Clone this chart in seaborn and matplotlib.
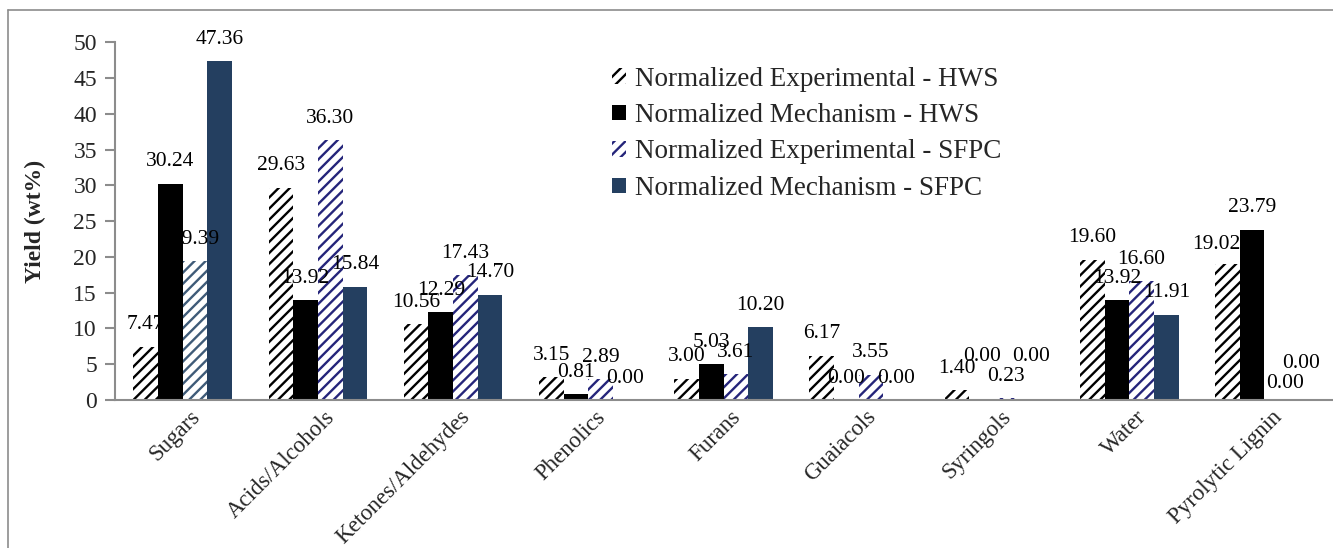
import matplotlib
matplotlib.use("Agg")
import matplotlib.pyplot as plt
import matplotlib.transforms as mtransforms
from matplotlib.lines import Line2D
from matplotlib.patches import Patch
import seaborn as sns
import pandas as pd

categories = ["Sugars", "Acids/Alcohols", "Ketones/Aldehydes", "Phenolics", "Furans",
              "Guaiacols", "Syringols", "Water", "Pyrolytic Lignin"]
series_names = ["Normalized Experimental - HWS", "Normalized Mechanism - HWS",
                "Normalized Experimental - SFPC", "Normalized Mechanism - SFPC"]
exp_hws = [7.47, 29.63, 10.56, 3.15, 3.00, 6.17, 1.40, 19.60, 19.02]
mech_hws = [30.24, 13.92, 12.29, 0.81, 5.03, 0.00, 0.00, 13.92, 23.79]
exp_sfpc = [19.39, 36.30, 17.43, 2.89, 3.61, 3.55, 0.23, 16.60, 0.00]
mech_sfpc = [47.36, 15.84, 14.70, 0.00, 10.20, 0.00, 0.00, 11.91, 0.00]
y_ticks = [0, 5, 10, 15, 20, 25, 30, 35, 40, 45, 50]

sns.set_theme(style="white")
plt.rcParams["font.family"] = ["Liberation Serif", "DejaVu Serif"]
plt.rcParams["hatch.linewidth"] = 1.7

rows = []
for s, vals in zip(series_names, [exp_hws, mech_hws, exp_sfpc, mech_sfpc]):
    for c, v in zip(categories, vals):
        rows.append({"cat": c, "series": s, "val": v})
df = pd.DataFrame(rows)

face_colors = ["white", "black", "white", "#243f60"]
hatch_colors = ["black", "black", "#25257a", "#243f60"]
hatches = ["///", None, "///", None]

# label nudges (pixels) where the original chart moved crowded labels
nudges = {(1, 6): (0, 22), (3, 6): (0, 22), (0, 8): (-11, -3),
          (2, 8): (8, -5), (3, 8): (0, 15)}

fig = plt.figure(figsize=(13.33, 5.48), dpi=100)
ax = fig.add_axes([0.0863, 0.270, 0.913, 0.653])

sns.barplot(data=df, x="cat", y="val", hue="series", hue_order=series_names,
            order=categories, palette=face_colors, width=0.73, ax=ax,
            legend=False, errorbar=None, saturation=1)

for i, cont in enumerate(ax.containers):
    for j, bar in enumerate(cont.patches):
        bar.set_facecolor(face_colors[i])
        bar.set_linewidth(0)
        if hatches[i]:
            hc = hatch_colors[i]
            if i == 2 and j == 0:
                hc = "#3f5b78"
            bar.set_hatch(hatches[i])
            bar.set_edgecolor(hc)
        else:
            bar.set_edgecolor(face_colors[i])
        dx, dy = nudges.get((i, j), (0, 0))
        v = cont.datavalues[j]
        ax.annotate(f"{v:.2f}", xy=(bar.get_x() + bar.get_width() / 2, bar.get_height()),
                    xytext=((dx) * 0.72, (22 + dy) * 0.72), textcoords="offset points",
                    ha="center", va="center", fontsize=15.5, color="black")

ax.set_xlim(-0.5, len(categories) - 0.5)
ax.set_ylim(0, 50)
ax.set_yticks(y_ticks)
ax.set_yticklabels([str(t) for t in y_ticks], fontsize=17)
ax.set_xlabel("")
ax.set_ylabel("Yield (wt%)", fontsize=17, fontweight="bold", labelpad=20)

for side in ["top", "right"]:
    ax.spines[side].set_visible(False)
for side in ["left", "bottom"]:
    ax.spines[side].set_color("#8c8c8c")
    ax.spines[side].set_linewidth(1.5)
ax.tick_params(axis="y", direction="out", length=7, color="#8c8c8c", width=1.5,
               left=True, pad=6)
ax.tick_params(axis="x", length=0, pad=10)

offset = mtransforms.ScaledTranslation(14 / 100, 0, fig.dpi_scale_trans)
for lab in ax.get_xticklabels():
    lab.set_rotation(45)
    lab.set_ha("right")
    lab.set_va("center")
    lab.set_rotation_mode("anchor")
    lab.set_fontsize(16.5)
    lab.set_transform(lab.get_transform() + offset)

handles = []
for i in range(4):
    if hatches[i]:
        handles.append(Patch(facecolor="white", edgecolor=hatch_colors[i],
                             hatch=hatches[i], linewidth=0))
    else:
        handles.append(Patch(facecolor=face_colors[i], edgecolor=face_colors[i], linewidth=0))
fig.legend(handles, series_names, loc="upper left", bbox_to_anchor=(0.451, 0.898),
           frameon=False, fontsize=19.5, handlelength=0.5, handleheight=0.5,
           handletextpad=0.35, labelspacing=0.42, borderaxespad=0)

fig.add_artist(Line2D([8 / 1333, 1.0], [1 - 10 / 548, 1 - 10 / 548],
                      transform=fig.transFigure, color="#8c8c8c", lw=1.2))
fig.add_artist(Line2D([8 / 1333, 8 / 1333], [0, 1 - 10 / 548],
                      transform=fig.transFigure, color="#8c8c8c", lw=1.2))

fig.savefig("out.png", dpi=100)
